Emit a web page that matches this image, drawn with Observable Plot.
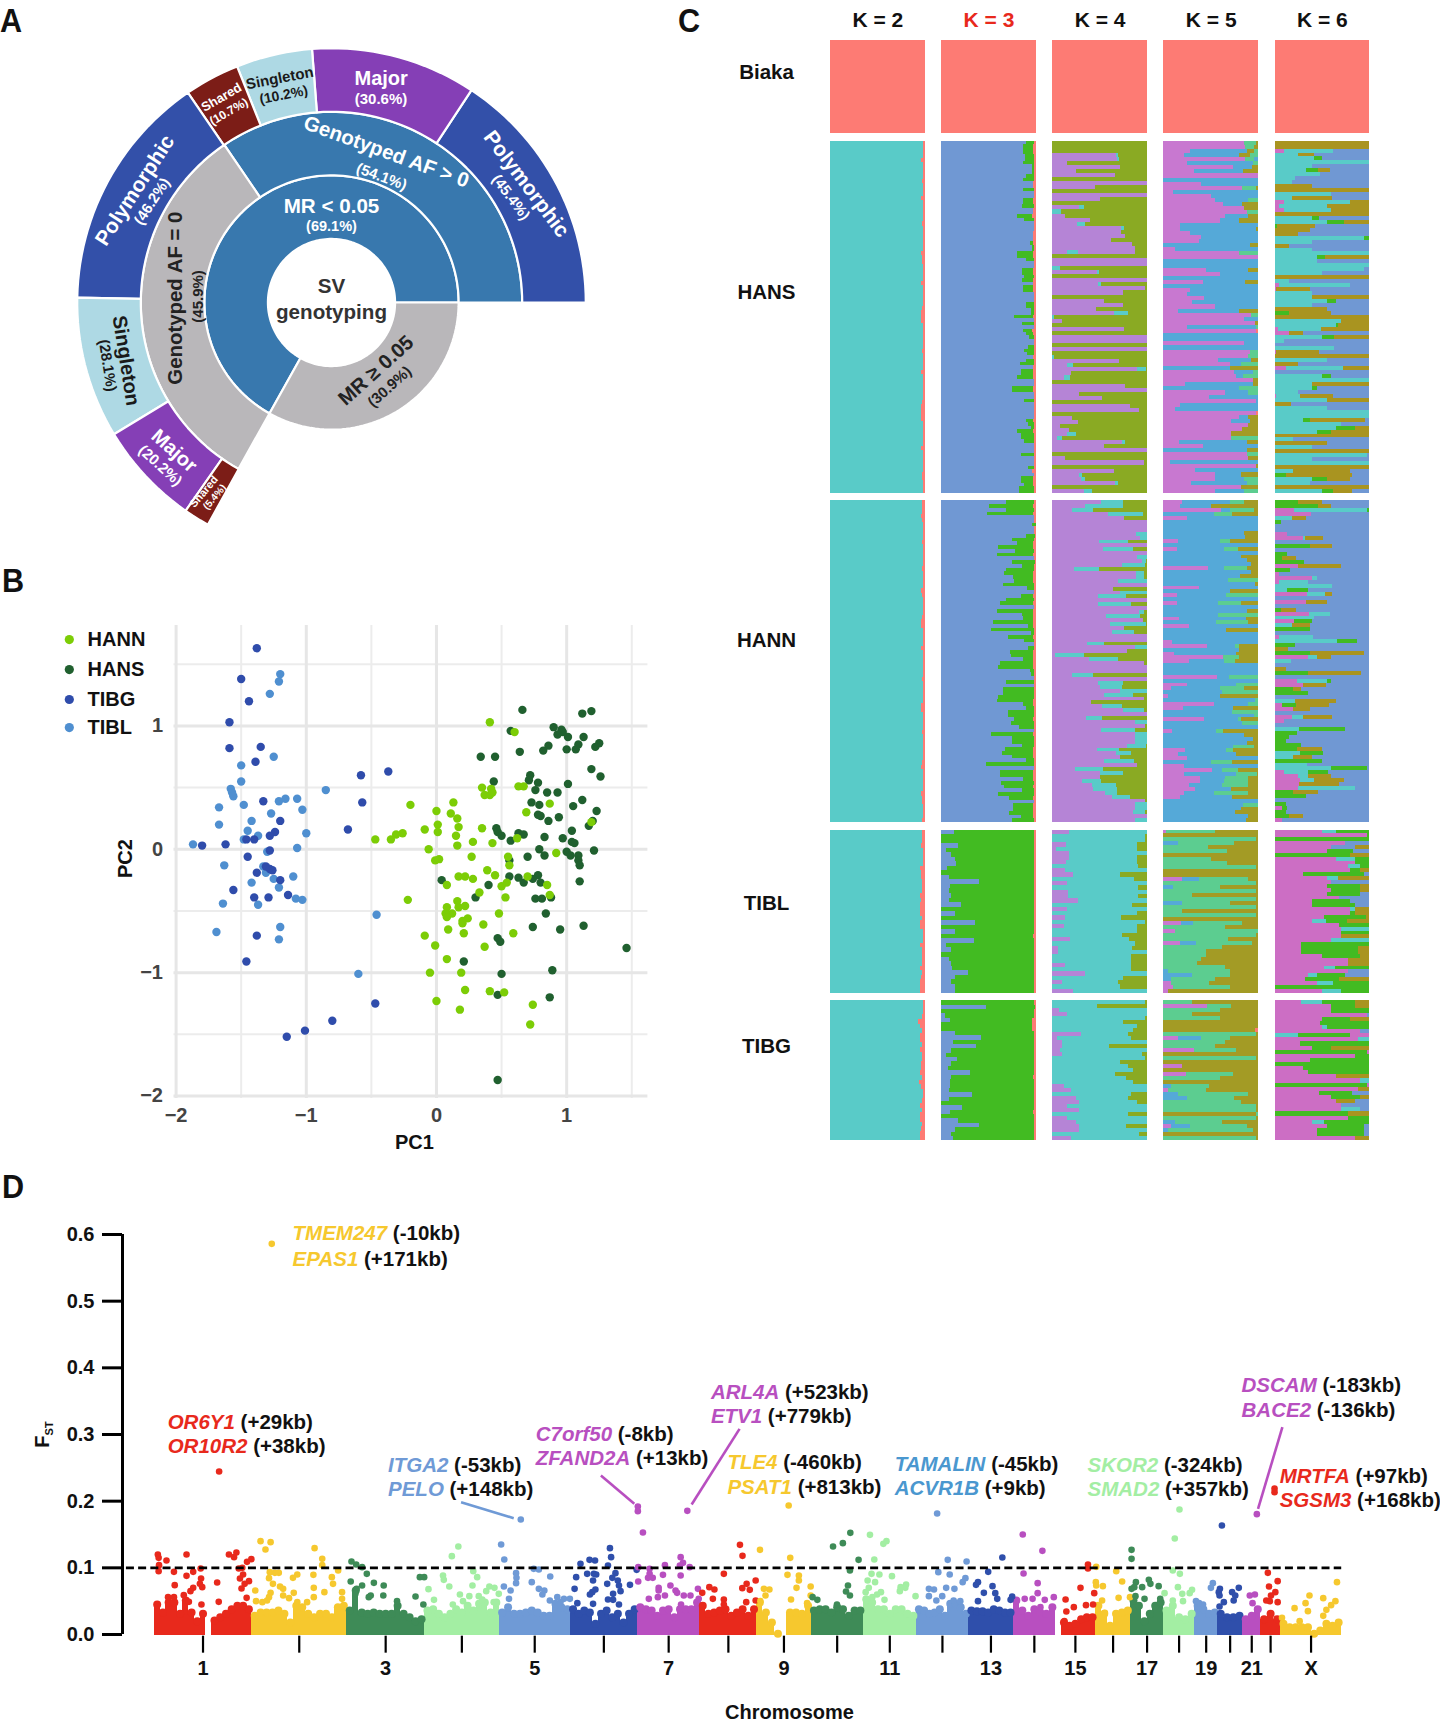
<!DOCTYPE html>
<html><head><meta charset="utf-8">
<script src="https://cdn.jsdelivr.net/npm/d3@7"></script>
<script src="https://cdn.jsdelivr.net/npm/@observablehq/plot@0.6"></script>
<style>
html,body{margin:0;padding:0;background:#fff}
#page{position:relative;width:1440px;height:1722px;overflow:hidden;font-family:"Liberation Sans",Arial,sans-serif}
#page svg{position:absolute;max-width:none;background:transparent;overflow:visible}
.letter{position:absolute;font:bold 34px "Liberation Sans",sans-serif;color:#111;line-height:34px;transform:scaleX(.9);transform-origin:left top}
</style></head><body><div id="page"></div>
<script>
const FONT='"Liberation Sans",Arial,sans-serif';
/* ---------- A: sunburst ---------- */
const ringInner=[1,1,2,2,3,3,3,3,3,3,3,3];
const segNames=["MR<0.05","MR>=0.05","AF>0","AF=0","Polymorphic","Major","Singleton","Shared","Polymorphic2","Singleton2","Major2","Shared2"];
const segStart=[0,240.8,0,124.2,0,56.6,94.4,111.8,124.4,178.9,211.2,235];
const segEnd=[240.8,360,124.2,240.8,56.6,94.4,111.8,124.4,178.9,211.2,235,240.9];
const segColor=["#3878ae","#b9b7ba","#3878ae","#b9b7ba","#3350a9","#853fb6","#aed9e4","#7c1d17","#3350a9","#aed9e4","#853fb6","#7c1d17"];
const sunText=["Major","(30.6%)","Polymorphic","(45.4%)","Genotyped AF > 0","(54.1%)","MR < 0.05","(69.1%)","SV","genotyping","MR ≥ 0.05","(30.9%)","Genotyped AF = 0","(45.9%)","Polymorphic","(46.2%)","Singleton","(28.1%)","Major","(20.2%)","Shared","(5.4%)","Shared","(10.7%)","Singleton","(10.2%)"];
const sunTheta=[77.5,76.3,31.3,30.4,70,68.3,90,90,90,270,303.2,304.6,178.4,177.4,150.3,150.6,195.8,195.7,223.3,223.6,236,239,118.2,118.3,103,103];
const sunR=[3.61,3.29,3.59,3.27,2.52,2.13,1.51,1.19,.26,.15,1.28,1.61,2.46,2.10,3.56,3.24,3.36,3.66,3.40,3.72,3.59,3.57,3.66,3.41,3.62,3.35];
const sunRot=[0,0,53,53,20,20,0,0,0,0,-42,-42,-90,-90,-57,-57,81,81,42,42,-50,-50,-30,-30,-11,-11];
const sunSize=[20,15,21,15,20.5,15,20.6,14.5,20.6,20.6,20.2,15,20.4,15,21,15,20,15,20,15,11,10,13,12,15,14];
const sunFill=["#fff","#fff","#fff","#fff","#fff","#fff","#fff","#fff","#333","#333","#222","#222","#222","#222","#fff","#fff","#1a1a1a","#1a1a1a","#fff","#fff","#fff","#fff","#fff","#fff","#1a1a1a","#1a1a1a"];
/* ---------- B: PCA ---------- */
const tibg=[[-1.38,1.63],[-1.5,1.38],[-1.44,1.2],[-1.59,1.03],[-1.59,.82],[-1.35,.83],[-1.39,.71],[-.58,.6],[-.37,.63],[-.57,.38],[-1.33,.39],[-1.2,.23],[-1.24,.14],[-1.28,.11],[-1.46,.08],[-1.4,.08],[-.68,.16],[-1.8,.03],[-1.62,.04],[-1.28,-.01],[-1.45,-.06],[-1.38,-.19],[-1.31,-.14],[-1.28,-.16],[-1.26,-.17],[-1.2,-.25],[-1.56,-.33],[-1.4,-.39],[-1.29,-.39],[-1.14,-.37],[-1.38,-.7],[-1.46,-.91],[-.47,-1.25],[-.8,-1.39],[-1.01,-1.47],[-1.15,-1.52]];
const tibl=[[-1.2,1.42],[-1.21,1.36],[-1.28,1.26],[-1.25,.75],[-1.5,.68],[-1.5,.55],[-1.58,.49],[-1.57,.46],[-1.56,.43],[-1.48,.36],[-1.67,.34],[-1.21,.39],[-1.16,.41],[-1.07,.41],[-1.03,.32],[-.85,.48],[-1.27,.29],[-1.42,.23],[-1.67,.2],[-1.45,.15],[-1.37,.11],[-1.48,.08],[-1,.13],[-1.87,.04],[-1.07,.01],[-1.3,-.02],[-1.63,-.13],[-1.33,-.14],[-1.31,-.19],[-1.25,-.24],[-1.1,-.22],[-1.42,-.27],[-1.21,-.31],[-1.08,-.4],[-1.03,-.41],[-1.64,-.44],[-1.37,-.45],[-.46,-.53],[-1.2,-.63],[-1.69,-.67],[-1.21,-.73],[-.6,-1.01]];
const hann=[[.41,1.03],[.6,.95],[.35,.5],[.42,.49],[.37,.44],[.41,.44],[.43,.46],[.63,.51],[.67,.51],[.87,.37],[.69,.3],[-.2,.36],[.13,.38],[0,.31],[.11,.29],[.16,.25],[.01,.2],[.17,.18],[.35,.17],[-.09,.16],[.01,.14],[-.26,.13],[-.31,.12],[-.35,.08],[-.47,.08],[.15,.11],[.28,.06],[.43,.05],[.16,.03],[.62,.09],[1.19,.22],[-.06,0],[-.01,-.09],[.02,-.08],[.27,-.06],[.55,-.06],[.92,-.03],[.56,-.13],[.39,-.17],[.17,-.22],[.22,-.22],[.28,-.24],[.45,-.21],[.7,-.22],[.08,-.29],[.5,-.3],[.54,-.27],[.85,-.29],[.33,-.35],[.53,-.39],[.87,-.37],[-.22,-.41],[.16,-.42],[.08,-.47],[.17,-.47],[.22,-.46],[.12,-.52],[.07,-.52],[.08,-.55],[.24,-.56],[.2,-.58],[.2,-.6],[.48,-.52],[.36,-.61],[.09,-.65],[.21,-.68],[.59,-.68],[-.09,-.7],[-.01,-.78],[.37,-.79],[.08,-.89],[-.05,-1],[.19,-1],[.22,-1.14],[.41,-1.15],[.52,-1.16],[0,-1.23],[.18,-1.3],[.74,-1.26],[.72,-1.42]];
const hans=[[.66,1.13],[1.19,1.12],[1.12,1.1],[.9,.99],[.57,.96],[.96,.97],[.97,.95],[.93,.93],[1.01,.91],[1.13,.91],[1.25,.86],[1.22,.83],[1.09,.85],[1.07,.81],[1,.81],[.86,.84],[.82,.8],[.64,.79],[.34,.75],[.45,.75],[1.19,.65],[1.26,.59],[.72,.6],[.71,.56],[.44,.55],[.78,.54],[1.01,.53],[.76,.48],[.85,.46],[.93,.46],[.73,.38],[.79,.36],[1.12,.4],[1.05,.35],[1.23,.31],[.78,.28],[.8,.27],[.94,.26],[.86,.23],[1.2,.23],[1.17,.19],[.46,.17],[.47,.14],[.5,.11],[.63,.13],[.67,.12],[.57,.07],[.83,.1],[.97,.09],[1.04,.15],[1.04,.06],[1.06,.05],[.79,0],[1,-.02],[1.21,-.01],[.7,-.06],[.83,-.05],[1.03,-.05],[1.09,-.05],[1.09,-.09],[1.1,-.13],[.56,-.09],[.56,-.22],[.63,-.23],[.78,-.21],[.74,-.24],[.04,-.25],[.67,-.27],[.8,-.27],[1.1,-.26],[.4,-.29],[.3,-.39],[.76,-.4],[.81,-.4],[.88,-.39],[.84,-.52],[.74,-.63],[.95,-.65],[1.13,-.62],[.47,-.72],[.49,-.75],[1.46,-.8],[.21,-.91],[.89,-.98],[.5,-1.01],[.47,-1.18],[.87,-1.2],[.47,-1.87]];
const pcaGroups=["HANN","HANS","TIBG","TIBL"];
const pcaColors=["#7ccd06","#20602f","#2f4cab","#4f8fd0"];
const legendY=[1.70,1.457,1.214,.987];
/* ---------- C: structure ---------- */
const Ks=["K = 2","K = 3","K = 4","K = 5","K = 6"];
const popNames=["Biaka","HANS","HANN","TIBL","TIBG"];
const popSize=[23.3,88,80.4,40.8,35];
const popGap=1.85;
const popLabelY=[7.9,63,150,215.6,251.2];
const palK2={c:"#59cbc8",r:"#fd7b74"};
const palK3={b:"#7098d3",g:"#42bb22",r:"#fd7b74"};
const palK4={p:"#b584d6",o:"#8aaa23",c:"#59cbc8",r:"#fd7b74"};
const palK5={m:"#c878d0",l:"#55a9d8",t:"#5ccd90",g:"#a39b25",c:"#59cbc8",r:"#fd7b74"};
const palK6={m:"#cc6ec4",l:"#7098d3",c:"#59cbc8",g:"#a99420",e:"#42bb22",r:"#fd7b74"};
const biaka=["r100"];
const hansK2=["4*c98r2","c96r4","4*c98r2","c97r3","3*c98r2","c96r4","5*c98r2","c97r3","6*c98r2","c96r4","2*c97r3","4*c98r2","c96r4","5*c98r2","c97r3","3*c96r4","6*c98r2","c97r3","4*c98r2","c96r4","6*c98r2","c97r3","4*c96r4","6*c98r2","c96r4","5*c98r2","2*c97r3","3*c98r2"];
const hansK3=["b90g8r2","2*b86g11r3","b87g10r3","2*b89g9r2","b86g12r2","3*b96g2r2","b90g8r2","b87g11r2","2*b97r3","b86g12r2","2*b98r2","2*b86g11r3","b85g13r2","2*b97r3","b80g16r4","b88g10r2","3*b98r2","3*b97r3","b94g3r3","2*b96g2r2","2*b80g17r3","b90g8r2","2*b98r2","2*b85g12r3","b88g10r2","b85g12r3","b97r3","2*b86g11r3","3*b98r2","2*b90g8r2","2*b95g3r2","b77g20r3","b98r2","b85g13r2","b98r2","b86g10r4","b90g7r3","b93g5r2","2*b98r2","b92g6r2","b88g10r2","b91g7r2","b97r3","b90g8r2","b83g15r2","b97r3","2*b84g13r3","b80g17r3","2*b98r2","2*b75g22r3","2*b98r2","b88g10r2","5*b98r2","b90g7r3","b92g6r2","b95g3r2","b80g17r3","2*b84g14r2","b88g10r2","3*b98r2","b84g14r2","3*b98r2","b92g6r2","b96r4","b98r2","2*b84g13r3","b88g9r3","2*b82g16r2"];
const hansK4=["3*o100","p67c3o30","p68c3o29","p15o85","p72o28","p25o75","p66o34","o100","p100","p45o55","o100","p100","p50o50","o100","p28c6o66","c9o91","p13o87","p40o60","p26c9o65","p73c3o24","p73o27","p77o23","p62o38","p84o16","p88o12","p15c12p60o13","o100","2*p100","c8o92","p47c2o51","o100","p100","p48c4o48","p98o2","p75o25","o100","p55o45","p75o25","p46o54","p65c15o20","c2o98","p10o90","o100","p76o24","o100","2*p100","o100","p100","o100","c2o98","p71o29","p15c7o78","p90c9o1","p20o80","p12c7o81","o100","p77o23","p100","p28o72","p53o47","o100","p82o18","p92o8","o100","p21o79","p27o73","p8o92","p18o82","p16c9o75","p5c5o90","p74c3o23","p55o45","p100","o100","p13o87","p97o3","o100","p65o35","p28c3o69","p30c5o65","p66c3o31","o100","p33c9o58"];
const hansK5=["m85t13g2","m86t10g4","m28l60g8t4","m22l58g12t8","m86t10l4","m25l70t5","m74l20g6","m32l52g16","m100","l100","m40l60","m83t15g2","m10l90","m50l50","m55l35t10","m63l20g17","m85g15","m88t12","m65l25g10","m60l20g20","m18l82","m18l80g2","m28l70","m40l60","m38l62","l92g8","m12l88","m80t20","m100","2*l100","m45l45g10","m60l40","l100","m42l44g14","l100","m28l72","m25l75","m43l57","m30l70","m55l45","m15l65g20","m93t7","m85l15","m97g3","m25l73t2","m98r2","2*l100","m85l15","l100","m92t8","m90t10","m58l35g7","m70l12t18","l70g30","m75l20t5","m77l7t16","m95g5","m23l72g5","l80t20","m65l25t10","m48l52","m98l2","m18l82","m12l88","m98r2","m80l10g10","m72l20g8","m90g10","m83g17","m72g28","m72t28","m16l72g12","m42l58","l88g12","m88t12","m90g10","m7l93","m98g2","m33l67","m55l27g18","m55l30t15","m29l59t12","m82g18","m55l30t15"];
const hansK6=["2*g100","m10c52l38","c25g17l58","c42e8l50","c100","c40l60","c33e13g13l41","c48l52","c22l78","c18l82","g40l60","g100","c60l40","c18g43l39","m10c70g20","m5c50g45","m10c50g40","g100","c40e7l53","c55e18g27","e3g40l57","g38l62","g25l75","c95e5","c40l60","g15l85","c40l60","c100","c45e8g47","c45l55","c100","c95l5","c50l50","g100","c15l85","m5c75l20","m2g35l63","c40l60","c40g60","c55e10l35","c40l60","g55l45","e15g45l40","g100","c70g30","c65e2g33","m4c45g51","m15g15l70","c50e13g37","c10l90","l100","c63l37","m2g45l53","g100","c55l45","g25l75","m12c60g28","l100","c50e10l40","c100","c40g60","c40e5l55","c25l75","m2c25g35l38","c55g45","g17l83","c55l45","2*c100","c30e8g58l4","c70l30","c65e20g15","c45e15g40","g100","c20l80","g55l45","c40l60","g100","c98l2","c40l60","c100","g100","c20g60l20","e12g70l18","c40e15g25l20","c38l62","g100","c50e12g20l18"];
const hannK2=["3*c97r3","c96r4","c97r3","4*c98r2","c97r3","5*c98r2","c97r3","4*c98r2","c96r4","c97r3","4*c98r2","c97r3","2*c96r4","4*c98r2","c96r4","6*c98r2","c97r3","5*c98r2","2*c96r4","4*c98r2","c97r3","6*c98r2","c97r3","c96r4","5*c98r2","c96r4","2*c97r3","3*c98r2","c97r3"];
const hannK3=["b69g29r2","b51g46r3","b69g29r2","b48g49r3","2*b98r2","b96g4","2*b98r2","b90g9r1","b75g23r2","b80g17r3","b60g37r3","b78g20r2","b59g38r3","b98r2","b75g24r1","b85g13r2","b68g30r2","b66g31r3","b76g21r3","b77g20r3","b65g33r2","b91g7r2","b98r2","b84g13r3","b68g30r2","b62g35r3","b98r2","b59g38r3","b85g12r3","b87g10r3","b55g42r3","b92g5r3","b53g45r2","b95g3r2","b71g26r3","b88g10r2","b98r2","b92g6r2","b73g24r3","b74g23r3","b86g11r3","b62g35r3","b60g37r3","b94g4r2","b95g3r2","b98r2","b68g30r2","b98r2","b65g33r2","b65g33r2","b60g38r2","b59g38r3","b86g11r3","b90g8r2","b71g27r2","b71g27r2","b77g20r3","b74g24r2","b82g16r2","b98r2","b53g44r3","b75g23r2","b75g23r2","b85g13r2","b67g30r3","b64g33r3","b75g22r3","b90g8r2","b47g51r2","b98r2","b62g35r3","b62g35r3","b86g11r3","b63g35r2","b66g31r3","b85g13r2","b60g38r2","b72g25r3","b98r2","b76g21r3","b76g21r3","b72g25r3","b84g13r3","b75g23r2"];
const hannK4=["p52c23o25","p35c40o25","p21c22o57","p59c37o4","p76o24","3*p100","p89c11","p93c7","p49c31o20","p100","p54c31o15","p100","p90c10","p95c4o1","p74c24o2","p23c26o51","p89c8o3","p89c8o3","p70c30","p100","p64o36","p72c28","p48c30o22","p100","p48c35o17","p100","p92c5o3","p57c36o7","p96o4","p61c38o1","p76o24","p63c23o14","2*p100","p37c18o45","p88c12","p79o21","p3c30o67","p39c31o30","p97o3","2*p100","p21c22o57","p100","p48c27o25","p50c24o26","p72c28","p55c30o15","p97o3","p41o59","p53c21o26","p75c22o3","p100","p36c17o47","p88c12","p98o2","p52c35o13","p87c13","p87c13","p88c12","p79c20o1","p47c24o29","p67c16o17","p72o28","p55c31o14","p90o10","p24c30o46","p50c25o25","p50o50","p31c20o49","p42c25o33","p43c25o32","p56c12o32","p63c19o18","p98o2","p87c13","p87c13","p85c13o2","p100","p88c12"];
const hannK5=["m20l50t15g15","m17l33g50","m61l9t26g4","l53t20g27","m25l75","3*l100","l85g15","l86g14","m15l45t10g30","l100","m14l50t15g21","l100","l82g18","l88g12","l93g7","m47l17t24g12","l93g7","l81g19","l68t32","l97g3","m38l62","l70g30","m14l52t34","l100","m14l44t24g18","l100","l88g12","l58t42","m16l71g13","l56t34g10","m27l73","l66g34","2*l100","m9l91","m46l30t4g20","l80g20","m11l66g23","m63t17g20","m27l37t12g24","3*l100","m57l12t31","l100","m25l52t23","m8l52t25g15","l62t38","m5l55g40","l97t3","m53l37t10","m21l53g26","l73t27","l96t4","m43l36t3g18","l83t17","l100","m9l47t7g37","l85g15","l95g5","l88g12","l74t22g4","m23l43t8g26","m15l62g23","m25l75","l50t23g27","m22l78","m51l11t17g21","m22l55t22g1","m39l26t25g10","m39l25t25g11","m27l35t27g11","m33l38g29","m22l32t36g10","m18l55g27","l100","l84t16","l82g18","l76g24","l90g10","l87g13"];
const hannK6=["e25g25l50","e46g14l40","m21c77e2","m39l61","c18g15l67","e7l93","2*l100","m13l87","m30c2g19l49","l100","e37g24l39","l100","e13l87","e8g15l77","e31l69","m25g45l30","e16l84","m5l95","m40c5l55","m5c30l65","c61l39","c13e22l65","m34c19g8l39","l100","m33g22l45","l100","e7g16l77","m36c23l41","c42l58","m21e19l60","c18g20l62","e38l62","l100","m5c36l59","c66e21l13","e22l78","g14l86","e38g57l5","m35c10g15l40","c17l83","l100","g12l88","e35g57l8","l100","m24c32e4l40","m30g24l46","e20g8l72","e35l65","l100","c22g43l35","m8e15g35l42","m20g18l62","l100","m18c12g31l39","m10l90","l100","c26e49l25","e24l76","e15l85","e12l88","e28l72","e24g26l50","c27e24l49","c20g20l60","e50l50","c34l66","c60e38l2","m10c25e22l43","m25c10g25l40","m27c15g31l27","m26g42l32","m25c60l15","e20g26l54","e33l67","l100","e12l88","m8e5l87","e12l88","e15g15l70","m8l92"];
const tiblK2=["3*c97r3","c96r4","4*c98r2","c95r5","2*c96r4","3*c97r3","c95r5","c96r4","3*c95r5","c97r3","2*c95r5","3*c98r2","c95r5","4*c97r3","c95r5","c97r3","c96r4","3*c95r5"];
const tiblK3=["b13g85r2","2*g98r2","b18g80r2","b5g93r2","b10g88r2","b14g84r2","b16g82r2","b6g92r2","g98r2","b8g90r2","b40g58r2","b9g89r2","b8g90r2","b10g88r2","b8g90r2","b21g77r2","g98r2","b15g83r2","g98r2","b36g62r2","g98r2","b15g83r2","g97r3","b35g63r2","b5g93r2","b10g88r2","g98r2","b8g90r2","b10g88r2","b11g87r2","b28g70r2","b14g84r2","b10g88r2","b15g83r2","b15g83r2"];
const tiblK4=["p18c82","2*c98o2","p14c76o10","p4c86o10","p18c82","p18c72o10","p14c76o10","c91o9","p13c87","p22c50o28","c86o14","p15c85","c91o9","p17c83","p17c74o9","p27c73","c84o16","p15c85","c90o10","p13c60o27","c98o2","p12c78o10","c90o10","c74o26","p19c62o19","c87o13","p6c78o16","p6c94","c83o17","c83o17","p13c70o17","c83o17","p35c65","c75o25","p10c60o30","c72o28","p22c78"];
const tiblK5=["m3t52g45","g100","t98g2","l15t60g25","t47g53","t67g33","g100","t50g50","t67g33","t98g2","2*g100","m20l18t52g10","t98g2","l10t50g40","t98g2","t30g70","t98g2","l20t50g30","t98g2","t20g80","t98g2","g100","m19l12t52g17","t65g35","m12t88","t98g2","t68g32","m17l17t60g6","t62g38","t45g55","t45g55","t40g60","t35g65","t65g35","l5t65g30","l30t40g30","l8t47g45","m8t40g52","m10t60g30","m5g95"];
const tiblK6=["m50c15e35","m98e2","e100","m75l25","m60l25g15","m55e28l17","e80g20","m65c20e15","m85e15","m78c12e10","m80e10g10","m30e65l5","m55c12g33","m60l40","m55e35g10","m60e30g10","m55e35l10","m68l32","m40e40l20","m40e45l15","m80c5g15","m80e5g15","m52e45g3","m40c14e23g23","m68e32","m70c30","m70e30","m70g30","m60c40","m28e72","m28e60g12","m28e60g12","m50e40g10","m78g22","m78g22","m52c12e36","m78l22","m35c10e30l25","m32e36g32","m45c17e38","e100","m50c20e30"];
const tibgK2=["3*c98r2","c97r3","c93r7","c95r5","c97r3","2*c95r5","c97r3","c95r5","2*c97r3","2*c96r4","c95r5","c97r3","c94r6","c96r4","2*c98r2","c97r3","c95r5","c97r3","2*c95r5","c97r3","c96r4","2*c95r5"];
const tibgK3=["g98r2","b47g52r1","g98r2","b4g94r2","b9g87r4","g96r4","g96r4","b14g84r2","b42g56r2","b12g86r2","b37g61r2","b10g88r2","b5g93r2","b17g81r2","b10g88r2","b7g91r2","b30g68r2","b10g87r3","b9g89r2","b9g89r2","b8g90r2","b33g65r2","b8g90r2","g98r2","b22g76r2","b9g88r3","g98r2","b18g80r2","b40g58r2","b15g83r2","b10g88r2","b12g86r2"];
const tibgK4=["c98o2","c47o53","p7c93","p15c85","c98o2","c75o25","c90o10","c85o15","p30c50o20","p5c78o17","p10c90","p10c50o40","p8c92","p10c85o5","c98o2","c72o28","c80o20","c85o15","c66o34","c78o22","c85o15","p12c88","p20c80","c83o17","p25c55o20","p28c62o10","p15c85","p28c72","c80o20","p15c85","p25c75","p28c50o22","p28c72","c92o8","p20c80"];
const tibgK5=["t30g70","m46t25g29","t60g40","t30g70","t60g40","2*g100","g97r3","t98g2","m15l25t30g30","t65g35","t55g45","m32t45g23","g100","t98g2","g100","m20g80","g100","m24t50g26","t60g40","g100","l8t40g52","m5t40g55","l15t75g10","l25t50g25","t82g18","t98g2","t98g2","g98t2","t98g2","l12t50g38","m8l20t60g12","l5t90g5","g100","t98g2"];
const tibgK6=["m28c22e35g15","m60e25g15","m60e40","m98l2","m50e30g20","m48e52","m50c5e45","m90l10","c25e55m20","m88c12","m27e73","m40e20g40","e98m2","m85e15","m37e63","e100","m30e70","m35e65","m65g35","m90c10","e98m2","m88g12","m47e35l18","m60e30g10","m65g20l15","m70l30","m70c20l10","e78g22","m78e22","m40c12e48","m55e40l5","m45e50l5","m45e50l5","m85g15"];
/* ---------- D: Manhattan ---------- */
const chrLen=[248,242,198,190,181,171,159,145,138,133,135,133,114,107,102,90,83,80,58,64,46,50,156];
const chrName=["1","","3","","5","","7","","9","","11","","13","","15","","17","","19","","21","","X"];
const chrColor=["#e8291c","#f6c82e","#3e8b57","#a3eea3","#6f9ad6","#2f4fab","#b84fc0","#e8291c","#f6c82e","#3e8b57","#a3eea3","#6f9ad6","#2f4fab","#b84fc0","#e8291c","#f6c82e","#3e8b57","#a3eea3","#6f9ad6","#2f4fab","#b84fc0","#e8291c","#f6c82e"];
const massTop=[[45,33,48,48,31,51,33,20,31,0,21,26,31,38,43,43,38],[28,33,33,33,36,31,18,43,41,31,26,31,31,26,41,43],[36,66,33,31,33,31,31,31,43,31,26,20,23],[36,38,31,26,31,38,33,43,36,46,48,33,48],[33,41,31,31,33,36,33,28,28,46,41,38],[38,31,36,33,16,31,36,26,31,18,31,38],[41,38,36,28,36,38,26,38,38,38,48],[43,31,33,36,38,28,33,38,28,38],[48,33,18,1,0,33,33,31,43],[36,38,38,33,41,38,28,36,36],[53,48,38,38,31,38,38,31,28],[38,36,31,33,38,28,46,46,41,31],[36,35,35,33,38,36,33,33],[51,36,28,38,33,31,41],[0,18,13,16,23,26,26],[43,31,13,31,33,36],[51,43,20,31,43,48],[36,43,26,23,31],[43,38,31,33],[31,26,26,28],[23,28,38],[23,31,23],[16,11,11,11,11,1,6,16,13,18]];
const fstPoints=[[165,.2445],[9,.12],[11,.115],[31,.111],[82,.12],[190,.12],[209,.123],[203,.116],[247,.113],[236,.109],[12,.104],[11,.095],[50,.094],[99,.094],[118,.099],[224,.1],[215,.099],[226,.09],[82,.088],[119,.084],[52,.074],[116,.076],[122,.071],[99,.07],[92,.065],[160,.078],[218,.084],[241,.08],[230,.076],[222,.069],[75,.059],[35,.056],[50,.056],[235,.055],[164,.049],[88,.049],[120,.045],
[299,.586],[270.5,.14],[296,.1385],[283,.1275],[408,.1295],[427.5,.1135],[427.5,.104],[468,.096],[452,.086],[455,.076],[405,.0895],[364,.09],[353,.085],[294,.0935],[317,.0925],[307,.0925],[292,.0845],[302,.076],[320,.072],[328,.0685],[257,.066],[296,.0625],[355,.0625],[406,.07],[433,.0635],[328,.0585],[343,.0545],[406,.056],[478,.0635],[478,.0535],[292,.056],[259,.05],[275,.0485],[287,.051],[364,.0485],[389,.0485],
[502,.1095],[514,.105],[529,.101],[541,.091],[500,.0795],[529,.0735],[559,.0775],[584,.0735],[515,.0685],[512,.061],[551,.0585],[546,.056],[583,.0585],[676,.086],[687,.086],[665,.057],[618,.05],[685,.045],
[774,.132],[757.5,.1175],[812,.095],[735,.0885],[737,.082],[822,.086],[751,.072],[810,.0735],[698,.068],[853,.072],[845,.065],[866,.07],[877,.061],[778,.06],[802,.0575],[826,.0575],[712,.052],[835,.0525],[786,.05],[760,.045],[864,.0485],
[933,.1725],[883,.135],[891,.1125],[921,.092],[922,.085],[921,.077],[966,.0985],[979,.0975],[1008,.087],[961,.0785],[890,.072],[907,.066],[979,.0685],[993,.066],[988,.06],[903,.0535],[1007,.051],[1026,.056],[1043,.0535],[1058,.0535],[1034,.0485],
[1160,.1295],[1163,.116],[1085,.106],[1108,.112],[1122,.111],[1155,.1035],[1102,.091],[1119,.091],[1125,.09],[1174,.092],[1166,.085],[1074,.086],[1117,.081],[1180,.081],[1153,.076],[1211,.0745],[1183,.0735],[1187,.065],[1070,.0685],[1123,.0675],[1115,.0635],[1109,.06],[1168,.061],[1155,.0525],[1168,.052],[1077,.047],[1117,.046],[1183,.045],[1228,.097],
[1231,.192],[1231,.185],[1244,.153],[1357,.1855],[1340,.116],[1346,.1075],[1338,.1035],[1363,.101],[1300,.104],[1261,.0985],[1232,.101],[1261,.091],[1257,.085],[1269,.085],[1295,.0895],[1232,.0795],[1340,.0885],[1314,.0735],[1284,.07],[1284,.066],[1327,.066],[1331,.0625],[1300,.0585],[1282,.056],[1348,.0585],[1365,.0585],[1384,.0685],[1386,.0535],[1259,.0535],[1341,.045],
[1491,.1345],[1497.5,.118],[1450,.091],[1531,.081],[1508,.076],[1497,.0695],[1516,.067],[1413,.071],[1426,.0675],[1395,.0625],[1422,.0535],[1450,.0525],[1450,.045],[1507,.0485],[1531,.051],
[1615,.1935],[1542,.127],[1619,.115],[1612,.0895],[1641,.0885],[1641,.081],[1635,.07],[1552,.0685],[1566,.0675],[1556,.0585],[1671,.072],[1671,.0585],[1621,.0525],[1662,.047],[1543,.05],
[1772,.1525],[1753,.137],[1728,.132],[1793,.112],[1771,.096],[1766,.0735],[1761,.0645],[1771,.0585],[1676,.056],[1688,.052],[1738,.045],
[1822,.1495],[1856,.136],[1864,.14],[1833,.1125],[1826,.091],[1846,.09],[1878,.0875],[1816,.081],[1835,.0785],[1819,.07],[1811,.0635],[1900,.071],[1914,.075],[1898,.065],[1912,.07],[1850,.0635],[1840,.06],[1938,.0575],[1828,.056],[1859,.052],
[1993,.1815],[2020,.112],[2068,.1095],[1996,.0935],[2025,.09],[2065,.0845],[2058,.0785],[1972,.0685],[1985,.0675],[2016,.07],[2037,.0685],[1972,.0575],[2006,.0575],[1991,.051],[2035,.051],[2052,.05],
[2159,.1155],[2123,.094],[2134,.0725],[2097,.0785],[2092,.0745],[2112,.0625],[2141,.062],[2146,.0535],[2184,.057],[2180,.052],[2097,.05],
[2211,.15],[2261,.1255],[2213,.0915],[2249,.077],[2249,.062],[2236,.0535],[2216,.0535],[2267,.052],[2290,.056],[2256,.041],
[2377,.105],[2377,.099],[2358,.07],[2393,.062],[2320,.0525],[2341,.041],[2322,.0345],[2372,.044],[2390,.045],[2317,.02],
[2398,.1015],[2449,.095],[2464,.0795],[2397,.0785],[2398,.0735],[2415,.0725],[2413,.051],[2420,.0325],[2455,.055],[2484,.056],
[2488,.127],[2488,.1135],[2499,.0785],[2488,.0685],[2495,.071],[2515,.071],[2532,.082],[2536,.076],[2557,.0725],[2498,.0575],[2521,.0535],[2561,.0535],
[2610,.1875],[2598,.144],[2593,.096],[2611,.091],[2606,.071],[2572,.062],[2617,.061],[2642,.067],[2636,.062],[2619,.05],[2593,.051],
[2695,.077],[2690,.07],[2660,.047],[2652,.05],[2670,.045],
[2718,.1635],[2713,.0685],[2710,.0635],[2712,.0585],[2744,.0635],[2761,.07],[2752,.0585],[2723,.0485],[2712,.042],[2748,.051],
[2807,.1805],[2789,.0585],[2802,.06],[2796,.047],
[2852,.219],[2852,.2135],[2835,.0925],[2838,.072],[2860,.08],[2854,.0635],[2843,.0585],[2860,.0485],[2831,.051],[2840,.05],
[3011,.0785],[2941,.0585],[2976,.0545],[2931,.047],[3007,.05],[2996,.044],[2903,.0395],[2937,.035],[2984,.037],[2976,.028],[2871,.025],[2916,.02]];
const geneName=["TMEM247","EPAS1","OR6Y1","OR10R2","ITGA2","PELO","C7orf50","ZFAND2A","ARL4A","ETV1","TLE4","PSAT1","TAMALIN","ACVR1B","SKOR2","SMAD2","DSCAM","BACE2","MRTFA","SGSM3"];
const geneDist=["(-10kb)","(+171kb)","(+29kb)","(+38kb)","(-53kb)","(+148kb)","(-8kb)","(+13kb)","(+523kb)","(+779kb)","(-460kb)","(+813kb)","(-45kb)","(+9kb)","(-324kb)","(+357kb)","(-183kb)","(-136kb)","(+97kb)","(+168kb)"];
const geneColor=["#f6c82e","#f6c82e","#e8291c","#e8291c","#6f9ad6","#6f9ad6","#b84fc0","#b84fc0","#b84fc0","#b84fc0","#f6c82e","#f6c82e","#4a97cf","#4a97cf","#a3eea3","#a3eea3","#b84fc0","#b84fc0","#e8291c","#e8291c"];
const geneX=[352,352,34,34,595,595,971,971,1417,1417,1459,1459,1885,1885,2376,2376,2768,2768,2865,2865];
const geneY=[.601,.563,.318,.282,.254,.218,.30,.264,.363,.327,.258,.221,.255,.219,.254,.218,.373,.336,.237,.201];
const linkX1=[781,1137,1490,2872], linkY1=[.1985,.2385,.3085,.311];
const linkX2=[915,1222,1368,2810], linkY2=[.1745,.196,.195,.1885];
const linkColor=["#6f9ad6","#b84fc0","#b84fc0","#b84fc0"];

/* ---------- build ---------- */
const page=document.getElementById("page");
function place(svg,left,top){svg.style.left=left+"px";svg.style.top=top+"px";page.appendChild(svg);return svg;}
[["A",0,3],["B",2,563],["C",678,3],["D",2,1169]].forEach(([t,x,y])=>{const d=document.createElement("div");d.className="letter";d.textContent=t;d.style.left=x+"px";d.style.top=y+"px";page.appendChild(d);});

/* A */
const sunPolys=[];
segStart.forEach((s,i)=>{
  const e=segEnd[i],r0=ringInner[i],r1=r0+1,n=Math.ceil((e-s)/2);
  const th=d3.range(n+1).map(k=>s+(e-s)*k/n);
  th.forEach(t=>sunPolys.push({id:i,t,r:r1}));
  th.slice().reverse().forEach(t=>sunPolys.push({id:i,t,r:r0}));
});
const px=(r,t)=>r*Math.cos(t*Math.PI/180), py=(r,t)=>r*Math.sin(t*Math.PI/180);
place(Plot.plot({width:534,height:534,margin:0,x:{domain:[-4.2,4.2],axis:null},y:{domain:[-4.2,4.2],axis:null},style:{fontFamily:FONT},
 marks:[
  Plot.line(sunPolys,{x:d=>px(d.r,d.t),y:d=>py(d.r,d.t),z:"id",fill:d=>segColor[d.id],stroke:"#fff",strokeWidth:2.2,curve:"linear-closed"}),
  Plot.text(sunText,{x:(d,i)=>px(sunR[i],sunTheta[i]),y:(d,i)=>py(sunR[i],sunTheta[i]),text:d=>d,rotate:(d,i)=>sunRot[i],fontSize:(d,i)=>sunSize[i],fill:(d,i)=>sunFill[i],fontWeight:"bold"})
 ]}),64,35);

/* B */
const pca=[[tibl,3],[tibg,2],[hans,1],[hann,0]];
const gridMaj=[-2,-1,0,1],gridMinX=[-1.5,-.5,.5,1.5],gridMinY=[-1.5,-.5,.5,1.5],gridMajY=[-2,-1,0,1];
const dots=pca.flatMap(([arr,g])=>arr.map(p=>({x:p[0],y:p[1],g})));
const intFmt=d3.format("d");
place(Plot.plot({width:680,height:600,marginLeft:173.5,marginRight:32.6,marginTop:65,marginBottom:62,
 x:{domain:[-2.016,1.624]},y:{domain:[-2.02,1.814]},style:{fontFamily:FONT},
 marks:[
  Plot.ruleX(gridMinX,{stroke:"#ececec",strokeWidth:2}),Plot.ruleY(gridMinY,{stroke:"#ececec",strokeWidth:2}),
  Plot.ruleX(gridMaj,{stroke:"#e6e6e6",strokeWidth:3}),Plot.ruleY(gridMajY,{stroke:"#e6e6e6",strokeWidth:3}),
  Plot.axisX({ticks:gridMaj,tickSize:0,tickPadding:9,tickFormat:intFmt,fontSize:20,fontWeight:"bold",fill:"#444",label:null}),
  Plot.axisY({ticks:gridMajY,tickSize:0,tickPadding:11,tickFormat:intFmt,fontSize:20,fontWeight:"bold",fill:"#444",label:null}),
  Plot.dot(dots,{x:"x",y:"y",r:4.2,fill:d=>pcaColors[d.g],stroke:"none"}),
  Plot.text(["PC1"],{x:-.17,y:-2.375,fontSize:20,fontWeight:"bold",fill:"#111"}),
  Plot.text(["PC2"],{x:-2.39,y:-.075,rotate:-90,fontSize:20,fontWeight:"bold",fill:"#111"}),
  Plot.dot(pcaGroups,{x:()=>-2.82,y:(d,i)=>legendY[i],r:4.6,fill:(d,i)=>pcaColors[i],stroke:"none"}),
  Plot.text(pcaGroups,{x:()=>-2.68,y:(d,i)=>legendY[i],text:d=>d,textAnchor:"start",fontSize:20,fontWeight:"bold",fill:"#111"})
 ]}),0,560);

/* C */
const cells=[[biaka,biaka,biaka,biaka,biaka],[hansK2,hansK3,hansK4,hansK5,hansK6],[hannK2,hannK3,hannK4,hannK5,hannK6],[tiblK2,tiblK3,tiblK4,tiblK5,tiblK6],[tibgK2,tibgK3,tibgK4,tibgK5,tibgK6]];
const pals=[palK2,palK3,palK4,palK5,palK6];
const segs=[];
let offset=0;
popNames.forEach((pop,pi)=>{
  Ks.forEach((K,ki)=>{
    const rows=[];
    cells[pi][ki].forEach(s=>{const m=s.match(/^(\d+)\*/);const n=m?+m[1]:1;const body=m?s.slice(m[0].length):s;
      for(let i=0;i<n;i++)rows.push(body);});
    rows.forEach((body,ri)=>{
      const parts=[...body.matchAll(/([a-z])(\d+)/g)].map(p=>[p[1],+p[2]]);
      const tot=d3.sum(parts,p=>p[1]);let c=0;
      parts.forEach(([l,v])=>{segs.push({K,x1:c/tot*100,x2:(c+v)/tot*100,y1:offset+popSize[pi]*ri/rows.length,y2:offset+popSize[pi]*(ri+1)/rows.length,fill:(pals[ki])[l]});c+=v;});
    });
  });
  offset+=popSize[pi]+popGap;
});
const totalY=offset-popGap;
place(Plot.plot({width:720,height:1145,marginLeft:110.2,marginRight:71,marginTop:40,marginBottom:4.7,
 fx:{domain:Ks,padding:.15,axis:null,round:false},x:{domain:[0,100],axis:null},y:{domain:[totalY,0],axis:null},style:{fontFamily:FONT},
 marks:[
  Plot.rect(segs,{fx:"K",x1:"x1",x2:"x2",y1:"y1",y2:"y2",fill:"fill",shapeRendering:"crispEdges"}),
  Plot.text(Ks,{fx:d=>d,x:()=>50,y:()=>-5,text:d=>d,fontSize:21,fontWeight:"bold",fill:d=>d==="K = 3"?"#e8291c":"#111"}),
  Plot.text(popNames,{fx:()=>Ks[0],x:()=>-68,y:(d,i)=>popLabelY[i],text:d=>d,fontSize:20.5,fontWeight:"bold",fill:"#111"})
 ]}),720,0);

/* D */
const cum=[0];chrLen.forEach(l=>cum.push(cum[cum.length-1]+l));
const chrOf=x=>Math.min(d3.bisectRight(cum,x)-1,22);
const mass=[];
massTop.forEach((arr,c)=>{const w=chrLen[c]/arr.length;arr.forEach((v,i)=>{if(v>0)mass.push({c,x1:cum[c]+i*w,x2:cum[c]+(i+1)*w,top:v/1000});});});
const mids=chrLen.map((l,i)=>cum[i]+l/2);
const geneText=geneName.map((g,i)=>g+" "+geneDist[i]);
const svgD=Plot.plot({width:1440,height:522,marginLeft:122,marginRight:98.8,marginTop:34,marginBottom:88,
 x:{domain:[-81,3023],axis:null},y:{domain:[0,.6],axis:null},style:{fontFamily:FONT},
 marks:[
  Plot.rectY(mass,{x1:"x1",x2:"x2",y1:()=>-.002,y2:"top",fill:d=>chrColor[d.c],shapeRendering:"crispEdges"}),
  Plot.dot(mass,{x:d=>(d.x1+d.x2)/2,y:"top",r:4,fill:d=>chrColor[d.c],stroke:"none"}),
  Plot.dot(fstPoints,{x:d=>d[0],y:d=>d[1],r:3.3,fill:d=>chrColor[chrOf(d[0])],stroke:"none"}),
  Plot.ruleY([.1],{x1:-71,x2:3023,stroke:"#000",strokeWidth:2.6,strokeDasharray:"8,4.2"}),
  Plot.ruleX([-81],{y1:0,y2:.6,stroke:"#000",strokeWidth:3}),
  Plot.axisY({ticks:[0,.1,.2,.3,.4,.5,.6],tickSize:20,tickPadding:8,strokeWidth:3,tickFormat:d3.format(".1f"),fontSize:20,fontWeight:"bold",fill:"#111",stroke:"#000",label:null}),
  Plot.ruleX(mids,{x:d=>d,y1:()=>-.0025,y2:()=>-.028,stroke:"#000",strokeWidth:2.2}),
  Plot.text(chrName,{x:(d,i)=>mids[i],y:()=>-.0515,text:d=>d,fontSize:20,fontWeight:"bold",fill:"#111"}),
  Plot.text(["Chromosome"],{x:1617,y:-.1165,fontSize:20,fontWeight:"bold",fill:"#111"}),
  Plot.text(["FST"],{x:-285,y:.30,rotate:-90,fontSize:20,fontWeight:"bold",fill:"#111",className:"fst"}),
  Plot.link(linkX1,{x1:d=>d,y1:(d,i)=>linkY1[i],x2:(d,i)=>linkX2[i],y2:(d,i)=>linkY2[i],stroke:(d,i)=>linkColor[i],strokeWidth:2.6}),
  Plot.text(geneText,{x:(d,i)=>geneX[i],y:(d,i)=>geneY[i],text:d=>d,textAnchor:"start",fontSize:20.5,fontWeight:"bold",fill:"#111",className:"gene"})
 ]});
place(svgD,0,1200);
svgD.querySelectorAll(".gene text").forEach(t=>{
  const txt=t.textContent,k=txt.indexOf(" "),i=geneName.indexOf(txt.slice(0,k));
  t.textContent="";
  const a=document.createElementNS("http://www.w3.org/2000/svg","tspan");a.textContent=txt.slice(0,k);a.setAttribute("font-style","italic");a.setAttribute("fill",geneColor[i]);
  const b=document.createElementNS("http://www.w3.org/2000/svg","tspan");b.textContent=txt.slice(k);
  t.appendChild(a);t.appendChild(b);
});
svgD.querySelectorAll(".fst text").forEach(t=>{
  t.textContent="";
  const a=document.createElementNS("http://www.w3.org/2000/svg","tspan");a.textContent="F";
  const b=document.createElementNS("http://www.w3.org/2000/svg","tspan");b.textContent="ST";b.setAttribute("font-size","11");b.setAttribute("dy","4");
  t.appendChild(a);t.appendChild(b);
});
</script></body></html>
